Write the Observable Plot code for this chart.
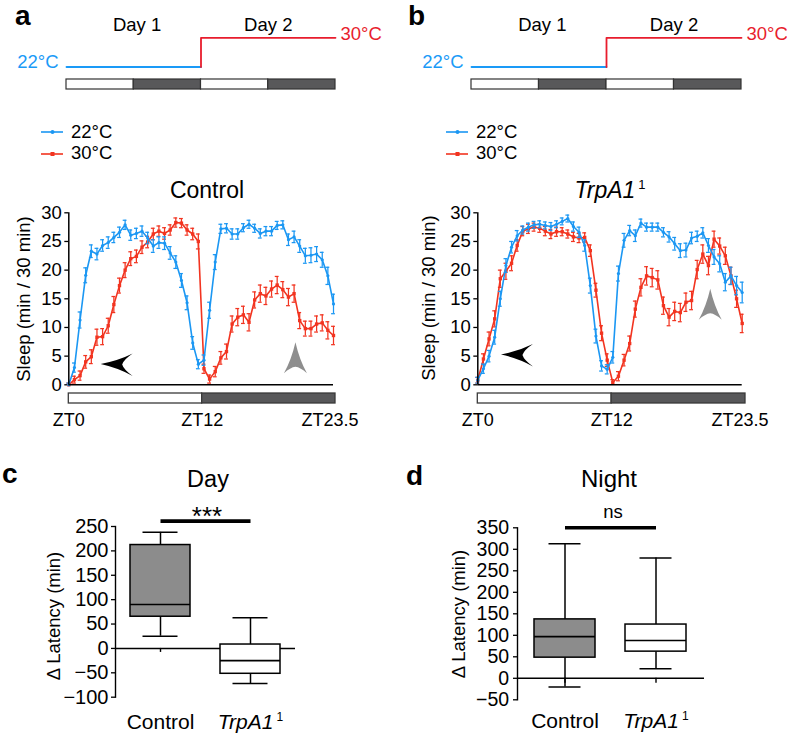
<!DOCTYPE html>
<html><head><meta charset="utf-8">
<script src="https://cdn.jsdelivr.net/npm/d3@7"></script>
<script src="https://cdn.jsdelivr.net/npm/@observablehq/plot@0.6"></script>
<style>
body{margin:0;background:#fff;}
#fig{position:relative;width:787px;height:733px;overflow:hidden;font-family:"Liberation Sans",Arial,Helvetica,sans-serif;color:#000;background:#fff;}
.ctr{position:absolute;transform:translate(-50%,-50%);white-space:nowrap;line-height:1;}
.ytl{position:absolute;transform:translate(-50%,-50%) rotate(-90deg);white-space:nowrap;line-height:1;}
.pl{position:absolute;font-weight:bold;font-size:28px;line-height:1;}
.leg{position:absolute;white-space:nowrap;line-height:1;font-size:18.5px;}
</style></head>
<body><div id="fig"></div>
<script>
// ---------------- data ----------------
const seriesNames = ["22°C", "30°C"];
const zt = d3.range(0, 24, 0.5); // 48 half-hour bins, ZT0 ... ZT23.5

const controlSleep22 = [0, 3, 11.3, 19.1, 23.3, 22.8, 24.3, 24.8, 25.7, 26.6, 27.9, 26.1, 26.4, 26.8, 25.6, 24.2, 24.8, 24.7, 23, 21.4, 18.2, 14.3, 7.3, 3.6, 4.3, 13, 21.4, 27.2, 27.3, 26.3, 26.3, 27.4, 28, 27.3, 26.4, 26.8, 26.8, 27.8, 27.9, 25.3, 25.8, 24.2, 22.5, 22.6, 22.8, 21.8, 19, 14.1];
const controlSem22 = [0.3,0.8,1.4,1.3,1.1,1.0,1.0,1.0,0.9,0.9,0.8,0.9,0.9,0.9,1.0,1.1,1.0,1.1,1.1,1.1,1.2,1.2,1.1,0.8,0.9,1.4,1.3,0.8,0.8,0.9,0.9,0.7,0.7,0.7,0.8,0.8,0.8,0.7,0.7,1.0,1.0,1.1,1.3,1.3,1.3,1.3,1.5,1.7];
const controlSleep30 = [0, 0.9, 1.6, 4, 4.9, 8.3, 8.4, 10.3, 14, 17.3, 20, 22, 22.4, 24, 24.9, 26.3, 26.8, 26.4, 27, 28.3, 28.2, 27, 26.3, 25, 2.8, 1, 2.3, 4.7, 5.8, 10.6, 11.8, 12.2, 10.9, 14.8, 15.9, 15.5, 16.7, 17.4, 16.6, 15.3, 15.9, 11.2, 9.8, 9.8, 10.6, 10.8, 9.5, 8.6];
const controlSem30 = [0.3,0.6,0.8,1.1,1.2,1.4,1.4,1.3,1.4,1.3,1.3,1.2,1.1,1.1,1.0,1.0,0.9,1.0,0.9,0.8,0.8,0.9,1.0,1.3,0.8,0.7,0.9,1.1,1.3,1.4,1.5,1.5,1.5,1.4,1.5,1.5,1.4,1.5,1.4,1.5,1.5,1.4,1.3,1.3,1.4,1.4,1.5,1.6];

const trpSleep22 = [0.8, 2.8, 5, 8.3, 15, 20.8, 24, 26, 27, 27.5, 27.9, 28, 27.8, 27.6, 28, 28.5, 29, 27.6, 26.6, 24.3, 17.3, 8.5, 3.3, 2.7, 4.8, 19.4, 25.2, 26.9, 26, 28.2, 27.5, 27.5, 27.5, 26.6, 25.8, 24.6, 23.4, 23.5, 25.6, 25.9, 26.5, 24.3, 22.3, 21.1, 17.9, 19, 17.3, 16.1];
const trpSem22 = [0.5,0.8,1.0,1.2,1.3,1.2,1.0,0.9,0.7,0.7,0.6,0.6,0.6,0.7,0.6,0.6,0.6,0.8,0.9,1.0,1.3,1.2,0.9,0.8,1.0,1.3,1.2,0.9,1.0,0.7,0.7,0.7,0.7,0.8,0.9,1.1,1.2,1.2,1.0,0.9,0.9,1.2,1.3,1.4,1.5,1.5,1.6,1.8];
const trpSleep30 = [0.8, 4.5, 8, 11.5, 18.5, 19.8, 21.2, 24.3, 26.8, 27.2, 27.5, 27.3, 26.8, 26.3, 26.7, 26.7, 26.3, 25.8, 25.6, 25.7, 23.4, 16.5, 9, 4.3, 0.4, 1.5, 4.3, 7.2, 13.2, 17, 19, 18.7, 18.3, 13.8, 11.8, 12.8, 12.6, 14.4, 14.7, 20.1, 22.8, 20.8, 25.4, 24.2, 22.5, 19, 15, 10.7];
const trpSem30 = [0.5,0.9,1.2,1.4,1.5,1.4,1.3,1.0,0.8,0.8,0.7,0.7,0.8,0.8,0.8,0.7,0.7,0.8,0.8,0.8,1.0,1.2,1.3,1.1,0.5,0.8,1.0,1.3,1.4,1.5,1.6,1.6,1.6,1.5,1.5,1.6,1.6,1.6,1.6,1.6,1.6,1.6,1.4,1.4,1.5,1.5,1.5,1.6];

const sleepTicks = [0, 5, 10, 15, 20, 25, 30];
const ztTickValues = [0, 12, 23.5];
const ztTickLabels = ["ZT0", "ZT12", "ZT23.5"];
const ldStart = [0, 12];
const ldEnd = [12, 24];
const ldState = ["light", "dark"];

const dayNames = ["Day 1", "Day 2"];
const dayCenters = [12.6, 36];
const tempTimes = [0, 24, 48];
const tempLevels = [22, 30];
const tempLabels = ["22°C", "30°C"];

// arrowhead annotations (ZT, sleep value)
const controlArrows = [{t: 4.25, v: 3.56, kind: "left"}, {t: 20.12, v: 4.73, kind: "up"}];
const trpArrows = [{t: 3.48, v: 5.2, kind: "left"}, {t: 20.66, v: 14.04, kind: "up"}];

const groups = ["Control", "TrpA1"];
const dayMin = [25, -72], dayQ1 = [65, -52], dayMedian = [90, -25], dayQ3 = [212, 8], dayMax = [238, 63];
const nightMin = [-20, 22], nightQ1 = [48, 62], nightMedian = [97, 88], nightQ3 = [137, 125], nightMax = [313, 280];
const dayTicks = [-100, -50, 0, 50, 100, 150, 200, 250];
const nightTicks = [-50, 0, 50, 100, 150, 200, 250, 300, 350];
const daySignif = "***", nightSignif = "ns";
const daySigLevel = 261, nightSigLevel = 350;

// ---------------- styling ----------------
const FONT = '"Liberation Sans", Arial, Helvetica, sans-serif';
const BLUE = "#1b97f3", RED = "#f23420", TEMP_BLUE = "#1a9af7", TEMP_RED = "#e81d2d";
const DARK = "#58585a", BOXGRAY = "#8c8c8c";
const STYLE = `font-family:${FONT};font-size:18px;background:transparent;overflow:visible;max-width:none;color:black;`;
const fig = document.getElementById("fig");

function place(node, left, top) {
  const d = document.createElement("div");
  d.style.cssText = `position:absolute;left:${left}px;top:${top}px;`;
  d.appendChild(node);
  fig.appendChild(d);
  return d;
}
function html(cls, inner, x, y, extra = "") {
  const d = document.createElement("div");
  d.className = cls;
  d.innerHTML = inner;
  d.style.cssText += `left:${x}px;top:${y}px;${extra}`;
  fig.appendChild(d);
  return d;
}

const arrowLeft = {draw(ctx) {
  ctx.moveTo(-16, -0.5);
  ctx.quadraticCurveTo(2, -4, 16, -11);
  ctx.quadraticCurveTo(7, -5, 5.5, 0);
  ctx.quadraticCurveTo(7, 5, 16, 11.5);
  ctx.quadraticCurveTo(2, 3.5, -16, -0.5);
  ctx.closePath();
}};
const arrowUp = {draw(ctx) {
  ctx.moveTo(0, -15.5);
  ctx.quadraticCurveTo(4, 2, 11.5, 15.5);
  ctx.quadraticCurveTo(5, 9.5, 0, 9);
  ctx.quadraticCurveTo(-5, 9.5, -11.5, 15.5);
  ctx.quadraticCurveTo(-4, 2, 0, -15.5);
  ctx.closePath();
}};

// ---------------- chart builders ----------------
function headerPlot(width, marginLeft, marginRight) {
  const segs = [
    {t: tempTimes[0], temp: tempLevels[0], level: "low", color: TEMP_BLUE},
    {t: tempTimes[1], temp: tempLevels[0], level: "low", color: TEMP_BLUE},
    {t: tempTimes[1], temp: tempLevels[0], level: "high", color: TEMP_RED},
    {t: tempTimes[1], temp: tempLevels[1], level: "high", color: TEMP_RED},
    {t: tempTimes[2], temp: tempLevels[1], level: "high", color: TEMP_RED}
  ];
  const days = dayNames.map((name, i) => ({name, center: dayCenters[i]}));
  return Plot.plot({
    width, height: 78, marginLeft, marginRight, marginTop: 37.3, marginBottom: 11.5,
    style: STYLE,
    x: {domain: [0, 48], axis: null},
    y: {domain: [22, 30], axis: null},
    marks: [
      Plot.line(segs, {x: "t", y: "temp", z: "level", stroke: "color", strokeWidth: 1.8}),
      Plot.text(days, {x: "center", text: "name", frameAnchor: "top", lineAnchor: "middle", dy: -12.5, fontSize: 18.5}),
      Plot.text([{t: tempTimes[0], temp: tempLevels[0], text: tempLabels[0]}], {x: "t", y: "temp", text: "text", textAnchor: "end", dx: -8, dy: -5, fill: TEMP_BLUE, fontSize: 18.5}),
      Plot.text([{t: tempTimes[2], temp: tempLevels[1], text: tempLabels[1]}], {x: "t", y: "temp", text: "text", textAnchor: "start", dx: 5, dy: -4, fill: TEMP_RED, fontSize: 18.5})
    ]
  });
}
function headerLD(width, marginLeft, marginRight) {
  const phases = [];
  for (let day = 0; day < 2; day++) {
    ldStart.forEach((s, i) => phases.push({start: s + 24 * day, end: ldEnd[i] + 24 * day, fill: ldState[i] === "light" ? "white" : DARK}));
  }
  return Plot.plot({
    width, height: 14, marginLeft, marginRight, marginTop: 2, marginBottom: 2,
    style: STYLE,
    x: {domain: [0, 48], axis: null},
    marks: [Plot.rect(phases, {x1: "start", x2: "end", fill: "fill", stroke: "#333", strokeWidth: 1.2})]
  });
}
function sleepPlot(s22, e22, s30, e30, arrows, width, marginLeft, marginRight) {
  const cap = 0.17;
  const mk = (vals, errs, series) => zt.map((t, i) => ({t, v: vals[i], e: errs[i], series}));
  const red = mk(s30, e30, seriesNames[1]);
  const blue = mk(s22, e22, seriesNames[0]);
  const seriesMarks = (rows, symbol, r) => [
    Plot.ruleX(rows, {x: "t", y1: d => Math.max(0, d.v - d.e), y2: d => d.v + d.e, stroke: "series", strokeWidth: 1.25}),
    Plot.ruleY(rows, {y: d => d.v + d.e, x1: d => d.t - cap, x2: d => d.t + cap, stroke: "series", strokeWidth: 1.25}),
    Plot.ruleY(rows.filter(d => d.v - d.e > 0), {y: d => d.v - d.e, x1: d => d.t - cap, x2: d => d.t + cap, stroke: "series", strokeWidth: 1.25}),
    Plot.line(rows, {x: "t", y: "v", stroke: "series", strokeWidth: 1.6}),
    Plot.dot(rows, {x: "t", y: "v", symbol, r, fill: "series", stroke: null})
  ];
  return Plot.plot({
    width, height: 190, marginLeft, marginRight, marginTop: 12.3, marginBottom: 5.7,
    style: STYLE,
    x: {domain: [0, 23.5], axis: null},
    y: {domain: [0, 30]},
    color: {domain: seriesNames, range: [BLUE, RED]},
    marks: [
      Plot.axisY({ticks: sleepTicks, tickSize: 4, tickPadding: 3, fontSize: 18.5, label: null, strokeWidth: 1.3}),
      ...seriesMarks(red, "square", 1.9),
      ...seriesMarks(blue, "circle", 1.6),
      Plot.ruleX([0], {stroke: "black", strokeWidth: 1.5}),
      Plot.ruleY([0], {stroke: "black", strokeWidth: 1.5}),
      Plot.dot(arrows.filter(d => d.kind === "left"), {x: "t", y: "v", symbol: arrowLeft, fill: "black", stroke: null}),
      Plot.dot(arrows.filter(d => d.kind === "up"), {x: "t", y: "v", symbol: arrowUp, fill: "#8e8e8e", stroke: null})
    ]
  });
}
function ldPlot(width, marginLeft, marginRight) {
  const phases = ldStart.map((s, i) => ({start: s, end: ldEnd[i], fill: ldState[i] === "light" ? "white" : DARK}));
  return Plot.plot({
    width, height: 42, marginLeft, marginRight, marginTop: 1, marginBottom: 31,
    style: STYLE,
    x: {domain: [0, 24]},
    marks: [
      Plot.rect(phases, {x1: "start", x2: "end", fill: "fill", stroke: "#3a3a3a", strokeWidth: 1.3}),
      Plot.axisX({ticks: ztTickValues, tickFormat: d => ztTickLabels[ztTickValues.indexOf(d)], tickSize: 0, tickPadding: 10, fontSize: 18, label: null})
    ]
  });
}
function boxPlot(o) {
  const rows = groups.map((g, i) => ({group: g, min: o.min[i], q1: o.q1[i], median: o.median[i], q3: o.q3[i], max: o.max[i], fill: i === 0 ? BOXGRAY : "white"}));
  const svg = Plot.plot({
    width: o.width, height: o.height, marginLeft: o.marginLeft, marginRight: o.marginRight, marginTop: o.marginTop, marginBottom: o.marginBottom,
    style: STYLE,
    x: {type: "band", domain: groups, paddingInner: o.paddingInner, paddingOuter: o.paddingOuter},
    y: {domain: o.domain},
    marks: [
      Plot.axisY({ticks: o.ticks, tickSize: 4, tickPadding: o.tickPadding, fontSize: o.tickFont, label: null, strokeWidth: 1.3}),
      Plot.axisX({tickSize: 0, tickPadding: o.catPad, fontSize: 21, label: null}),
      Plot.frame({anchor: "left", strokeWidth: 1.4}),
      Plot.ruleY([0], {stroke: "black", strokeWidth: 1.4}),
      Plot.ruleX(rows, {x: "group", y1: 0, y2: -o.tickLen, strokeWidth: 1.4}),
      Plot.ruleX(rows, {x: "group", y1: "q3", y2: "max", strokeWidth: 1.5}),
      Plot.ruleX(rows, {x: "group", y1: "min", y2: "q1", strokeWidth: 1.5}),
      Plot.barY(rows, {x: "group", y1: "q1", y2: "q3", fill: "fill", stroke: "black", strokeWidth: 1.5}),
      Plot.tickY(rows, {x: "group", y: "median", strokeWidth: 1.6}),
      Plot.tickY(rows, {x: "group", y: "max", strokeWidth: 1.5, insetLeft: o.capInset, insetRight: o.capInset}),
      Plot.tickY(rows, {x: "group", y: "min", strokeWidth: 1.5, insetLeft: o.capInset, insetRight: o.capInset}),
      Plot.link([{from: groups[0], to: groups[1], y: o.sigLevel}], {x1: "from", x2: "to", y1: "y", y2: "y", stroke: "black", strokeWidth: 3.6})
    ]
  });
  svg.querySelectorAll("text").forEach(t => {
    if (t.textContent === "TrpA1") {
      t.innerHTML = '<tspan font-style="italic">TrpA1</tspan><tspan dx="3" dy="-8" font-size="12">1</tspan>';
    }
  });
  return svg;
}

// ---------------- panel a ----------------
html("pl", "a", 15, 1.5);
place(headerPlot(400, 66, 65), 0, 0);
place(headerLD(400, 66, 65), 0, 77);
place(sleepPlot(controlSleep22, controlSem22, controlSleep30, controlSem30, controlArrows, 345, 68.3, 12), 0, 200);
place(ldPlot(345, 68.3, 10), 0, 392);
html("ctr", "Control", 207, 190, "font-size:23px;");
html("ytl", "Sleep (min / 30 min)", 23.5, 299, "font-size:18.5px;");

// ---------------- panel b ----------------
html("pl", "b", 408, 1.5);
place(headerPlot(400, 71, 59), 400, 0);
place(headerLD(400, 71, 59), 400, 77);
place(sleepPlot(trpSleep22, trpSem22, trpSleep30, trpSem30, trpArrows, 355, 77.3, 13.3), 400, 200);
place(ldPlot(355, 77.3, 10), 400, 392);
html("ctr", '<span style="font-style:italic">TrpA1</span><span style="font-size:13px;position:relative;top:-9px;margin-left:3px">1</span>', 610, 190, "font-size:23px;");
html("ytl", "Sleep (min / 30 min)", 429, 298, "font-size:18.5px;");

// ---------------- legends ----------------
function legend(x0, y0) {
  seriesNames.forEach((name, i) => {
    const cy = y0 + i * 21.7;
    const col = i === 0 ? BLUE : RED;
    const ns = "http://www.w3.org/2000/svg";
    const s = document.createElementNS(ns, "svg");
    s.setAttribute("width", 24); s.setAttribute("height", 10);
    s.style.cssText = `position:absolute;left:${x0}px;top:${cy - 5}px;overflow:visible`;
    const l = document.createElementNS(ns, "line");
    l.setAttribute("x1", 0); l.setAttribute("x2", 22); l.setAttribute("y1", 5); l.setAttribute("y2", 5);
    l.setAttribute("stroke", col); l.setAttribute("stroke-width", 1.6);
    s.appendChild(l);
    const m = i === 0 ? document.createElementNS(ns, "circle") : document.createElementNS(ns, "rect");
    if (i === 0) { m.setAttribute("cx", 11.5); m.setAttribute("cy", 5); m.setAttribute("r", 2); }
    else { m.setAttribute("x", 9.5); m.setAttribute("y", 3); m.setAttribute("width", 4); m.setAttribute("height", 4); }
    m.setAttribute("fill", col);
    s.appendChild(m);
    fig.appendChild(s);
    html("leg", name, x0 + 30, cy - 9.3);
  });
}
legend(41, 132);
legend(446, 132);

// ---------------- panel c ----------------
html("pl", "c", 2, 459.5);
place(boxPlot({min: dayMin, q1: dayQ1, median: dayMedian, q3: dayQ3, max: dayMax, domain: [-100, 250], ticks: dayTicks,
  width: 310, height: 238, marginLeft: 115, marginRight: 15, marginTop: 31, marginBottom: 36.3,
  paddingInner: 1 / 3, paddingOuter: 1 / 6, capInset: 12.5, tickLen: 8.2, sigLevel: daySigLevel, tickFont: 20, tickPadding: 3, catPad: 16.6}), 0, 495);
html("ctr", "Day", 208, 479.5, "font-size:23.5px;");
html("ctr", daySignif, 207, 515.5, "font-size:26px;");
html("ytl", "Δ Latency (min)", 54, 616, "font-size:18.5px;");

// ---------------- panel d ----------------
html("pl", "d", 406, 461.5);
place(boxPlot({min: nightMin, q1: nightQ1, median: nightMedian, q3: nightQ3, max: nightMax, domain: [-50, 350], ticks: nightTicks,
  width: 320, height: 238, marginLeft: 117, marginRight: 16, marginTop: 32.3, marginBottom: 33.7,
  paddingInner: 0.326, paddingOuter: 0.18, capInset: 14.5, tickLen: 11.6, sigLevel: nightSigLevel, tickFont: 19.5, tickPadding: 4.4, catPad: 13.7}), 400, 495);
html("ctr", "Night", 609, 478.5, "font-size:24px;");
html("ctr", nightSignif, 613, 512, "font-size:18.5px;");
html("ytl", "Δ Latency (min)", 459, 614, "font-size:18.5px;");
</script>
</body></html>
